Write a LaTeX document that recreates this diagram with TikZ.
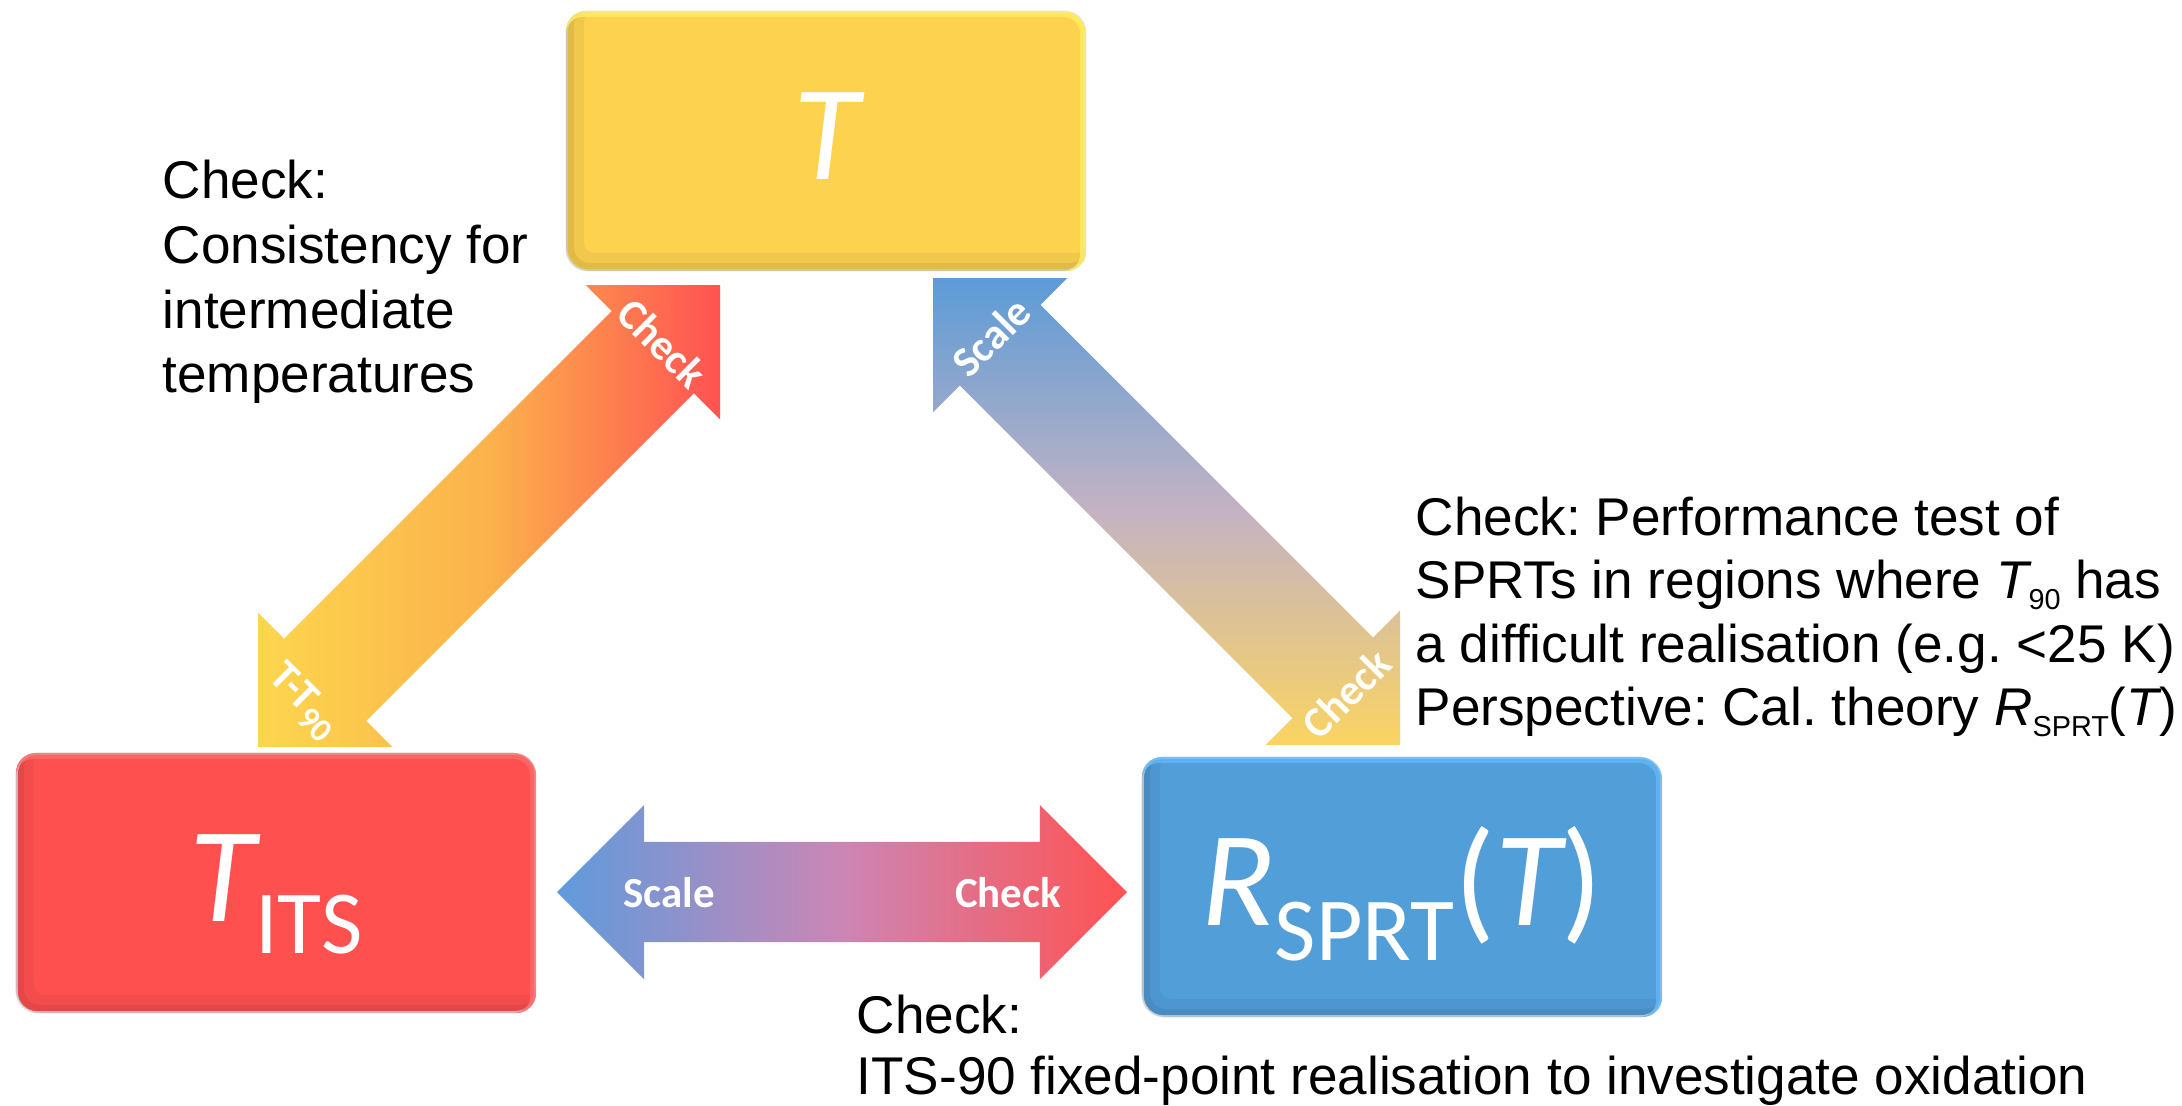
\documentclass[tikz,border=0pt]{standalone}
\usepackage{fontspec}
\setmainfont{Liberation Sans}
\newfontfamily\calfont{Carlito}
\usetikzlibrary{calc}
\frenchspacing
\definecolor{ybox}{HTML}{FCD24F}
\definecolor{rbox}{HTML}{FF5050}
\definecolor{bbox}{HTML}{519ED9}
\definecolor{ayel}{HTML}{FCD64E}
\definecolor{aora}{HTML}{FBB24C}
\definecolor{ared}{HTML}{FF5252}
\definecolor{ablue}{HTML}{5C9BD7}
\definecolor{amauve}{HTML}{C4B3C2}
\definecolor{ayel2}{HTML}{FAD462}
\definecolor{bblue}{HTML}{5F9BDC}
\definecolor{bpink}{HTML}{CC86B4}
\definecolor{ylight}{HTML}{FFEE60}
\definecolor{rlight}{HTML}{FF6A6A}
\definecolor{blight}{HTML}{62B8FA}

\newcommand\blockarrow[6]{%
  \coordinate (baA) at ($(#1)!#3!(#2)$);
  \coordinate (baB) at ($(#2)!#3!(#1)$);
  \shade[#6] (#1)
    -- ($(baA)!#4!90:(#2)$) -- ($(baA)!#5!90:(#2)$)
    -- ($(baB)!#5!-90:(#1)$) -- ($(baB)!#4!-90:(#1)$)
    -- (#2)
    -- ($(baB)!#4!90:(#1)$) -- ($(baB)!#5!90:(#1)$)
    -- ($(baA)!#5!-90:(#2)$) -- ($(baA)!#4!-90:(#2)$) -- cycle;}

\newcommand\boxbevel[3]{%
  \begin{scope}
    \clip[rounded corners=0.2cm] (#1.south west) rectangle (#1.north east);
    \draw[#2, opacity=0.10, line width=0.18cm, rounded corners=0.2cm]
      ([shift={(9,-9)}]#1.south west) rectangle ([shift={(9,-9)}]#1.north east);
    \draw[#2, opacity=0.15, line width=0.08cm, rounded corners=0.2cm]
      ([shift={(4,-4)}]#1.south west) rectangle ([shift={(4,-4)}]#1.north east);
    \draw[#3, opacity=0.8, line width=0.06cm, rounded corners=0.2cm]
      ([shift={(-3,3)}]#1.south west) rectangle ([shift={(-3,3)}]#1.north east);
  \end{scope}}

\newcommand\bigtxt[1]{\smash{\raisebox{-0.38cm}{\calfont\fontsize{38.5}{40}\selectfont #1}}}
\newcommand\subtxt[1]{\raisebox{-0.11cm}{\fontsize{8.2}{9}\selectfont #1}}

\begin{document}
\begin{tikzpicture}[x=0.01cm, y=-0.01cm,
  nbox/.style={rectangle, rounded corners=0.2cm, minimum width=5.18cm,
    minimum height=2.58cm, inner sep=0pt, text=white, draw=black!12, line width=0.02cm},
  albl/.style={text=white, inner sep=0pt, font=\calfont\bfseries\fontsize{12.2}{13}\selectfont},
  txt/.style={anchor=base west, inner sep=0pt, font=\fontsize{15.1}{18}\selectfont}]

\useasboundingbox (0,0) rectangle (2182,1105);

% boxes
\node[nbox, fill=ybox] (T) at (826,141) {\bigtxt{\itshape T}};
\node[nbox, fill=rbox] (Tits) at (276,883)
  {\bigtxt{{\itshape T}\raisebox{-0.32cm}{\fontsize{25.6}{26}\selectfont ITS}}};
\node[nbox, fill=bbox] (R) at (1402,887)
  {\bigtxt{{\itshape R}\raisebox{-0.35cm}{\fontsize{25.6}{26}\selectfont SPRT}({\itshape T})}};

\boxbevel{T}{ybox!55!black}{ylight}
\boxbevel{Tits}{rbox!55!black}{rlight}
\boxbevel{R}{bbox!55!black}{blight}

% block arrows
\coordinate (la1) at (258,747);
\coordinate (la2) at (720,285);
\blockarrow{la1}{la2}{0.95cm}{0.95cm}{0.58cm}{left color=ayel, right color=ared, middle color=aora}

\coordinate (ra1) at (933,278);
\coordinate (ra2) at (1400,745);
\blockarrow{ra1}{ra2}{0.95cm}{0.95cm}{0.57cm}{top color=ablue, bottom color=ayel2, middle color=amauve}

\coordinate (ba1) at (557,892);
\coordinate (ba2) at (1127,892);
\blockarrow{ba1}{ba2}{0.87cm}{0.87cm}{0.50cm}{left color=bblue, right color=ared, middle color=bpink}

% arrow labels
\node[albl, rotate=-45] (lcheck) at (662,343) {Check};
\node[albl, rotate=-45] (ltt) at (303,702) {T-T\raisebox{-0.1cm}{\fontsize{9.5}{10}\selectfont 90}};
\node[albl, rotate=45] (rscale) at (991,337) {Scale};
\node[albl, rotate=45] (rcheck) at (1346,694) {Check};
\node[albl] (bscale) at (669,893) {Scale};
\node[albl] (bcheck) at (1008,893) {Check};

% texts
\node[txt] (l1) at (162,198) {Check:};
\node[txt] (l2) at (162,263) {Consistency for};
\node[txt] (l3) at (162,328) {intermediate};
\node[txt] (l4) at (162,392) {temperatures};

\node[txt] (r1) at (1415,535) {Check: Performance test of};
\node[txt] (r2) at (1415,598) {SPRTs in regions where {\itshape T}\subtxt{90} has};
\node[txt] (r3) at (1415,662) {a difficult realisation (e.g. <25 K)};
\node[txt] (r4) at (1415,725) {Perspective: Cal. theory {\itshape R}\subtxt{SPRT}({\itshape T})};

\node[txt] (b1) at (856,1033) {Check:};
\node[txt] (b2) at (856,1094) {ITS-90 fixed-point realisation to investigate oxidation};
\end{tikzpicture}
\end{document}
